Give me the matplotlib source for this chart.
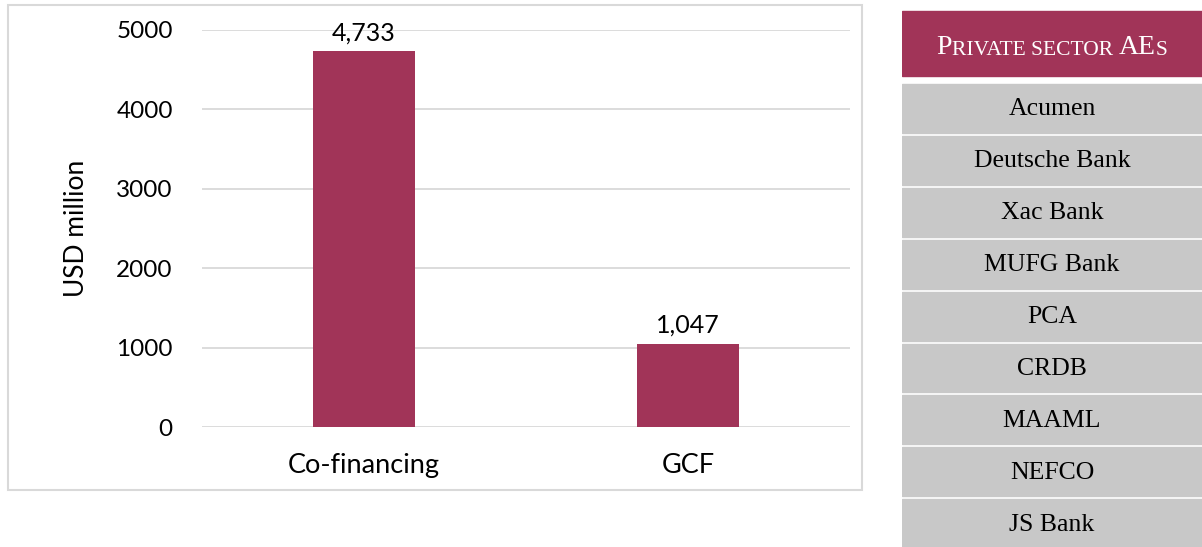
import matplotlib.pyplot as plt
from matplotlib.patches import Rectangle

categories = ["Co-financing", "GCF"]
values = [4733, 1047]
value_labels = ["4,733", "1,047"]
yticks = [0, 1000, 2000, 3000, 4000, 5000]
table_title = ["P", "RIVATE SECTOR ", "AE", "S"]
entities = ["Acumen", "Deutsche Bank", "Xac Bank", "MUFG Bank", "PCA",
            "CRDB", "MAAML", "NEFCO", "JS Bank"]

bar_color = "#A13458"
cell_gray = "#C8C8C8"
grid_gray = "#D9D9D9"
sans = "Lato"
serif = "Liberation Serif"

fig = plt.figure(figsize=(12.02, 5.47), dpi=100)

# chart frame
fig.patches.append(Rectangle((8 / 1202, 1 - 490 / 547), 854 / 1202, 485 / 547,
                             transform=fig.transFigure, fill=False,
                             edgecolor=grid_gray, linewidth=1.5))

ax = fig.add_axes([202 / 1202, 1 - 427 / 547, 648 / 1202, 397 / 547])
x = range(len(categories))
ax.bar(x, values, width=0.315, color=bar_color, zorder=3)
ax.set_xlim(-0.5, 1.5)
ax.set_ylim(0, 5000)
ax.set_yticks(yticks)
ax.set_yticklabels([str(t) for t in yticks], fontsize=17.5, fontfamily=sans)
ax.set_xticks(list(x))
ax.set_xticklabels(categories, fontsize=19.5, fontfamily=sans)
ax.tick_params(length=0)
ax.tick_params(axis="y", pad=21)
ax.tick_params(axis="x", pad=19)
ax.grid(axis="y", color=grid_gray, linewidth=1.3, zorder=0)
for s in ax.spines.values():
    s.set_visible(False)
ax.set_ylabel("USD million", fontsize=19, fontfamily=sans, labelpad=20)
for xi, v, lab in zip(x, values, value_labels):
    ax.annotate(lab, (xi, v), xytext=(0, 5), textcoords="offset points",
                ha="center", va="bottom", fontsize=18, fontfamily=sans,
                annotation_clip=False)

# table on the right (1 data unit = 1 pixel)
tax = fig.add_axes([902 / 1202, 0, 300 / 1202, 1])
tax.set_xlim(0, 300)
tax.set_ylim(547, 0)
tax.axis("off")
tax.add_patch(Rectangle((0, 11), 300, 65, color=bar_color))
first = tax.text(35, 54, table_title[0], color="white", fontsize=20,
                 fontfamily=serif, va="baseline")
t = first
for i, piece in enumerate(table_title[1:]):
    size = 20 if i == 1 else 15.5
    t = tax.annotate(piece, xy=(1, 0), xycoords=t, xytext=(0, 0),
                     textcoords="offset points", va="bottom", color="white",
                     fontsize=size, fontfamily=serif)
row_top = 84
row_h = 51.9
for i, name in enumerate(entities):
    top = row_top + i * row_h
    tax.add_patch(Rectangle((0, top), 300, row_h - 3, color=cell_gray))
    tax.text(150, top + (row_h - 3) / 2 + 1, name, ha="center", va="center",
             fontsize=18.5, fontfamily=serif)

# center the small-caps header in its cell
fig.canvas.draw()
r = fig.canvas.get_renderer()
x0 = first.get_window_extent(r).x0
x1 = t.get_window_extent(r).x1
shift = tax.transData.transform((150, 0))[0] - (x0 + x1) / 2
first.set_x(35 + shift)

fig.savefig("out.png", dpi=100)
